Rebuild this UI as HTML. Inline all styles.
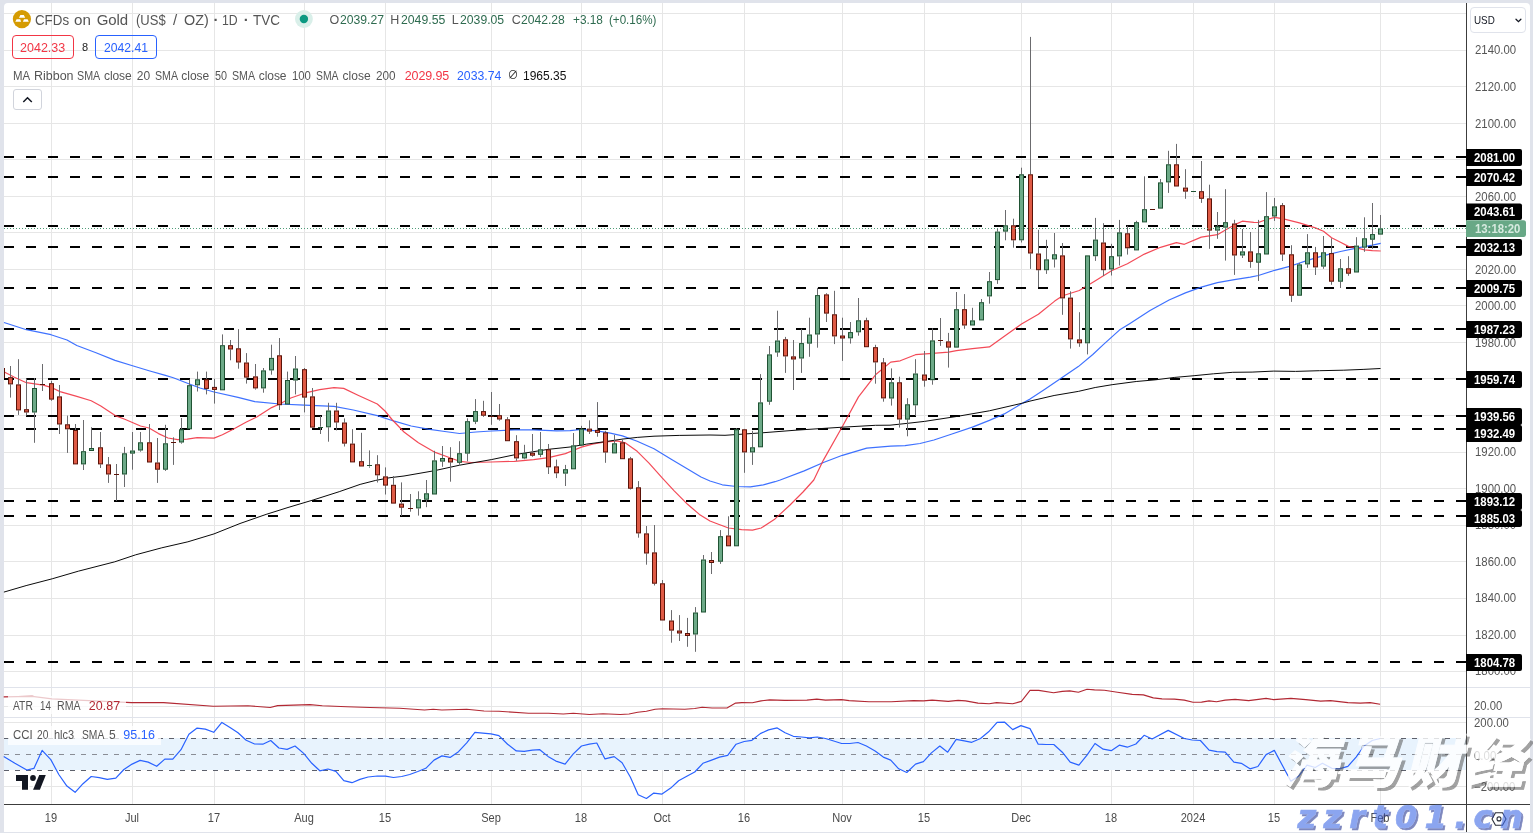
<!DOCTYPE html>
<html lang="en"><head><meta charset="utf-8"><title>CFDs on Gold (US$ / OZ) 1D TVC</title>
<style>
html,body{margin:0;padding:0}
body{width:1533px;height:833px;background:#e0e3eb;overflow:hidden;position:relative;font-family:"Liberation Sans", "Noto Sans CJK SC", sans-serif}
#panel{position:absolute;left:4px;top:3px;width:1526px;height:829px;background:#fff;border-radius:4px 4px 0 0}
svg{position:absolute;left:0;top:0}
.t{position:absolute;white-space:pre;line-height:1;transform-origin:0 50%}
.box{position:absolute;box-sizing:border-box;border:1px solid;border-radius:4px}
.lg{position:absolute;background:rgba(255,255,255,.75)}
#wm1{position:absolute;left:1281px;top:735px;font-size:56px;line-height:1;font-weight:900;font-style:italic;white-space:pre;font-family:"Liberation Sans","Noto Sans CJK SC","WenQuanYi Zen Hei",sans-serif;color:#fff;-webkit-text-stroke:1px #fff;filter:url(#wmf);letter-spacing:6px}
#wm2{position:absolute;left:1297.5px;top:801.4px;font-size:32px;line-height:1;font-weight:700;font-style:italic;white-space:pre;font-family:"DejaVu Sans","Liberation Sans",sans-serif;color:rgb(68,110,230);-webkit-text-stroke:.7px rgb(68,110,230);filter:url(#wmb);letter-spacing:7.3px}
</style></head><body>
<div id="panel"></div>
<svg width="1533" height="833" viewBox="0 0 1533 833" shape-rendering="auto">
<defs><filter id="wmf" x="-5%" y="-10%" width="115%" height="130%" color-interpolation-filters="sRGB"><feOffset in="SourceAlpha" dx="2.8" dy="2.8" result="o"/><feComposite in="o" in2="SourceAlpha" operator="out" result="sh"/><feGaussianBlur in="sh" stdDeviation="0.6" result="sh"/><feFlood flood-color="#555" flood-opacity="0.55"/><feComposite in2="sh" operator="in" result="shc"/><feComponentTransfer in="SourceGraphic" result="fg"><feFuncA type="linear" slope="0.8"/></feComponentTransfer><feMerge><feMergeNode in="shc"/><feMergeNode in="fg"/></feMerge></filter><filter id="wmb" x="-5%" y="-10%" width="115%" height="130%" color-interpolation-filters="sRGB"><feOffset in="SourceAlpha" dx="2" dy="2" result="o"/><feComposite in="o" in2="SourceAlpha" operator="out" result="sh"/><feGaussianBlur in="sh" stdDeviation="0.3" result="sh"/><feFlood flood-color="rgb(38,55,147)" flood-opacity="0.6"/><feComposite in2="sh" operator="in" result="shc"/><feComponentTransfer in="SourceGraphic" result="fg"><feFuncA type="linear" slope="0.62"/></feComponentTransfer><feMerge><feMergeNode in="shc"/><feMergeNode in="fg"/></feMerge></filter></defs>
<g id="chart">
<line x1="4" y1="671.5" x2="1466.5" y2="671.5" stroke="#e6e6e6"/>
<line x1="4" y1="635.5" x2="1466.5" y2="635.5" stroke="#e6e6e6"/>
<line x1="4" y1="598.5" x2="1466.5" y2="598.5" stroke="#e6e6e6"/>
<line x1="4" y1="561.5" x2="1466.5" y2="561.5" stroke="#e6e6e6"/>
<line x1="4" y1="525.5" x2="1466.5" y2="525.5" stroke="#e6e6e6"/>
<line x1="4" y1="488.5" x2="1466.5" y2="488.5" stroke="#e6e6e6"/>
<line x1="4" y1="452.5" x2="1466.5" y2="452.5" stroke="#e6e6e6"/>
<line x1="4" y1="415.5" x2="1466.5" y2="415.5" stroke="#e6e6e6"/>
<line x1="4" y1="378.5" x2="1466.5" y2="378.5" stroke="#e6e6e6"/>
<line x1="4" y1="342.5" x2="1466.5" y2="342.5" stroke="#e6e6e6"/>
<line x1="4" y1="305.5" x2="1466.5" y2="305.5" stroke="#e6e6e6"/>
<line x1="4" y1="269.5" x2="1466.5" y2="269.5" stroke="#e6e6e6"/>
<line x1="4" y1="232.5" x2="1466.5" y2="232.5" stroke="#e6e6e6"/>
<line x1="4" y1="196.5" x2="1466.5" y2="196.5" stroke="#e6e6e6"/>
<line x1="4" y1="159.5" x2="1466.5" y2="159.5" stroke="#e6e6e6"/>
<line x1="4" y1="123.5" x2="1466.5" y2="123.5" stroke="#e6e6e6"/>
<line x1="4" y1="86.5" x2="1466.5" y2="86.5" stroke="#e6e6e6"/>
<line x1="4" y1="50.5" x2="1466.5" y2="50.5" stroke="#e6e6e6"/>
<line x1="4" y1="13.5" x2="1466.5" y2="13.5" stroke="#e6e6e6"/>
<line x1="4" y1="706.5" x2="1466.5" y2="706.5" stroke="#e6e6e6"/>
<line x1="4" y1="722.5" x2="1466.5" y2="722.5" stroke="#e6e6e6"/>
<line x1="4" y1="754.5" x2="1466.5" y2="754.5" stroke="#e6e6e6"/>
<line x1="4" y1="786.5" x2="1466.5" y2="786.5" stroke="#e6e6e6"/>
<line x1="51.5" y1="3" x2="51.5" y2="804.5" stroke="#e6e6e6"/>
<line x1="132.5" y1="3" x2="132.5" y2="804.5" stroke="#e6e6e6"/>
<line x1="214.5" y1="3" x2="214.5" y2="804.5" stroke="#e6e6e6"/>
<line x1="304.5" y1="3" x2="304.5" y2="804.5" stroke="#e6e6e6"/>
<line x1="385.5" y1="3" x2="385.5" y2="804.5" stroke="#e6e6e6"/>
<line x1="491.5" y1="3" x2="491.5" y2="804.5" stroke="#e6e6e6"/>
<line x1="581.5" y1="3" x2="581.5" y2="804.5" stroke="#e6e6e6"/>
<line x1="662.5" y1="3" x2="662.5" y2="804.5" stroke="#e6e6e6"/>
<line x1="744.5" y1="3" x2="744.5" y2="804.5" stroke="#e6e6e6"/>
<line x1="842.5" y1="3" x2="842.5" y2="804.5" stroke="#e6e6e6"/>
<line x1="924.5" y1="3" x2="924.5" y2="804.5" stroke="#e6e6e6"/>
<line x1="1021.5" y1="3" x2="1021.5" y2="804.5" stroke="#e6e6e6"/>
<line x1="1111.5" y1="3" x2="1111.5" y2="804.5" stroke="#e6e6e6"/>
<line x1="1193.5" y1="3" x2="1193.5" y2="804.5" stroke="#e6e6e6"/>
<line x1="1274.5" y1="3" x2="1274.5" y2="804.5" stroke="#e6e6e6"/>
<line x1="1380.5" y1="3" x2="1380.5" y2="804.5" stroke="#e6e6e6"/>
<rect x="4" y="738" width="1462.5" height="32" fill="#e8f3fd"/>
<line x1="4" y1="738.5" x2="1466.5" y2="738.5" stroke="#5d606b" stroke-width="1" stroke-dasharray="5 6"/>
<line x1="4" y1="754.5" x2="1466.5" y2="754.5" stroke="#8a8d95" stroke-width="1" stroke-dasharray="5 6"/>
<line x1="4" y1="770.5" x2="1466.5" y2="770.5" stroke="#5d606b" stroke-width="1" stroke-dasharray="5 6"/>
<line x1="4" y1="687.5" x2="1530" y2="687.5" stroke="#e0e3eb"/>
<line x1="4" y1="717.5" x2="1530" y2="717.5" stroke="#e0e3eb"/>
<line x1="4" y1="157.0" x2="1466.5" y2="157.0" stroke="#000" stroke-width="2" stroke-dasharray="10 12"/>
<line x1="4" y1="177.0" x2="1466.5" y2="177.0" stroke="#000" stroke-width="2" stroke-dasharray="10 12"/>
<line x1="4" y1="226.0" x2="1466.5" y2="226.0" stroke="#000" stroke-width="2" stroke-dasharray="10 12"/>
<line x1="4" y1="247.0" x2="1466.5" y2="247.0" stroke="#000" stroke-width="2" stroke-dasharray="10 12"/>
<line x1="4" y1="288.0" x2="1466.5" y2="288.0" stroke="#000" stroke-width="2" stroke-dasharray="10 12"/>
<line x1="4" y1="329.0" x2="1466.5" y2="329.0" stroke="#000" stroke-width="2" stroke-dasharray="10 12"/>
<line x1="4" y1="379.0" x2="1466.5" y2="379.0" stroke="#000" stroke-width="2" stroke-dasharray="10 12"/>
<line x1="4" y1="416.0" x2="1466.5" y2="416.0" stroke="#000" stroke-width="2" stroke-dasharray="10 12"/>
<line x1="4" y1="429.0" x2="1466.5" y2="429.0" stroke="#000" stroke-width="2" stroke-dasharray="10 12"/>
<line x1="4" y1="501.0" x2="1466.5" y2="501.0" stroke="#000" stroke-width="2" stroke-dasharray="10 12"/>
<line x1="4" y1="516.0" x2="1466.5" y2="516.0" stroke="#000" stroke-width="2" stroke-dasharray="10 12"/>
<line x1="4" y1="662.0" x2="1466.5" y2="662.0" stroke="#000" stroke-width="2" stroke-dasharray="10 12"/>
<polyline points="4.0,322.5 26.4,329.7 51.0,334.7 67.0,340.0 76.8,345.5 96.0,352.7 115.0,360.4 132.5,365.7 149.0,370.7 165.4,375.3 173.3,377.7 189.4,384.0 200.0,388.0 214.0,392.0 238.0,397.3 254.8,401.6 279.6,404.0 304.5,405.2 334.0,406.4 353.3,410.0 377.3,415.6 394.4,421.2 411.2,426.0 428.0,429.1 444.8,431.5 459.5,433.5 476.0,432.0 491.4,431.0 514.5,429.9 533.7,429.9 556.5,430.8 570.0,430.7 581.4,429.5 596.9,430.8 610.3,433.2 622.4,435.9 637.2,441.3 654.0,448.8 670.8,458.9 687.6,469.0 701.0,477.0 710.0,481.0 722.3,484.8 736.5,486.5 750.4,486.9 763.3,484.8 775.0,481.7 780.2,480.0 804.2,470.9 823.4,462.5 842.4,455.3 866.7,448.1 890.7,446.1 905.0,445.7 920.0,443.5 933.9,440.0 951.2,434.3 972.4,427.1 989.4,420.4 1004.3,413.9 1022.7,403.1 1030.0,399.1 1044.5,389.5 1061.4,377.9 1078.3,366.6 1092.8,354.5 1103.3,344.6 1119.4,330.1 1130.0,323.5 1150.0,310.5 1169.1,300.0 1185.4,292.9 1201.3,287.1 1217.4,282.7 1234.4,279.6 1250.3,277.2 1258.4,275.5 1274.6,270.3 1291.5,265.8 1307.5,260.4 1323.5,255.7 1340.5,251.5 1356.4,248.1 1372.4,245.2 1380.7,243.4" fill="none" stroke="#2962ff" stroke-width="1.2" stroke-linejoin="round" opacity=".9"/>
<polyline points="4.3,372.0 14.4,377.2 26.4,382.7 43.2,385.2 51.0,387.3 60.0,391.6 76.8,396.4 91.2,400.8 100.8,406.0 115.2,415.6 124.8,419.2 140.5,426.0 149.0,428.0 158.5,433.6 168.0,438.0 177.7,439.7 187.3,439.2 197.2,437.6 214.0,438.1 222.4,434.8 233.2,429.2 246.4,422.0 257.2,416.8 271.6,407.6 279.6,404.0 290.8,398.0 304.5,393.2 319.7,389.6 334.0,387.7 343.7,388.4 358.0,395.2 377.3,404.0 385.0,411.0 392.0,419.5 404.0,432.0 418.4,442.8 435.2,452.4 450.6,458.0 459.5,461.3 471.2,462.5 491.4,462.0 514.5,461.3 533.7,459.6 548.5,457.7 565.4,453.6 573.0,450.5 581.4,447.1 593.5,443.8 605.5,441.8 617.0,440.9 625.5,442.9 637.2,451.3 649.0,463.1 662.4,478.2 674.2,490.8 687.6,504.3 699.4,514.4 710.0,521.0 715.8,523.2 728.5,528.0 741.7,529.7 752.5,530.1 761.2,528.0 775.0,518.9 790.0,505.0 803.0,492.0 813.8,480.0 823.4,460.1 842.4,426.5 858.5,396.9 875.5,374.8 890.7,362.1 900.2,360.8 915.5,354.7 932.4,353.3 948.6,352.2 956.5,350.6 972.4,348.6 989.4,346.9 1005.4,335.4 1021.5,324.0 1038.4,314.3 1054.7,301.1 1062.7,295.8 1079.3,290.5 1095.4,280.7 1111.5,270.7 1127.4,263.7 1144.4,254.1 1160.5,247.3 1176.4,242.7 1184.4,244.3 1201.3,237.1 1217.4,234.7 1225.4,230.0 1234.4,224.9 1242.3,221.2 1253.8,222.4 1258.4,222.5 1266.5,219.5 1274.6,217.3 1282.5,218.7 1299.4,222.9 1315.4,227.9 1323.5,231.3 1331.6,237.7 1340.5,242.2 1348.4,246.4 1356.4,247.8 1364.5,249.8 1372.4,250.6 1380.7,251.0" fill="none" stroke="#f23645" stroke-width="1.2" stroke-linejoin="round" opacity=".9"/>
<polyline points="3.9,592.1 26.1,585.6 52.2,578.8 78.3,571.2 114.8,561.8 135.7,554.8 161.8,547.8 187.9,541.8 214.0,533.9 240.0,523.5 266.1,514.4 287.0,507.8 313.1,500.0 339.2,491.7 360.1,484.4 375.7,480.4 390.0,477.7 404.0,476.0 434.5,470.7 459.5,465.2 491.4,459.6 516.4,454.4 548.5,449.3 570.0,447.0 586.8,444.1 605.5,441.6 622.4,439.1 637.2,437.4 654.0,436.2 679.2,435.4 710.0,435.0 725.0,435.3 761.0,432.9 797.0,430.1 842.4,427.2 875.5,425.3 890.0,425.2 905.0,423.6 924.5,421.4 956.5,416.5 989.4,410.8 1022.7,403.1 1030.0,401.1 1054.1,395.5 1078.3,391.4 1095.2,387.5 1112.1,384.7 1136.2,381.5 1155.5,379.8 1174.8,377.4 1194.1,375.7 1213.4,373.8 1232.8,372.3 1252.1,372.1 1273.8,371.1 1295.5,371.4 1319.6,370.7 1343.8,370.2 1363.1,369.4 1380.5,368.5" fill="none" stroke="#0a0a0a" stroke-width="1" stroke-linejoin="round"/>
<path d="M10.5 366.0V377.2M10.5 384.4V397.6M18.5 359.2V384.4M18.5 410.4V414.9M26.5 378.4V409.2M26.5 412.5V415.6M34.5 378.0V388.0M34.5 412.5V442.8M42.5 364.0V384.4M42.5 385.2V391.0M51.5 380.8V383.2M51.5 399.6V400.8M59.5 385.0V396.4M59.5 424.5V434.0M67.5 415.6V424.3M67.5 429.3V452.9M75.5 424.0V430.0M83.5 420.0V451.2M83.5 464.4V470.0M91.5 427.2V448.3M100.5 432.0V447.3M100.5 464.4V468.0M108.5 457.0V464.4M108.5 474.5V482.9M116.5 464.0V474.2M116.5 475.0V500.9M124.5 446.9V453.3M124.5 474.5V487.0M132.5 432.0V450.5M132.5 453.6V469.7M140.5 432.0V442.3M140.5 450.5V451.7M149.5 424.0V442.3M157.5 438.0V462.5M157.5 469.7V482.9M165.5 424.8V443.3M165.5 469.7V470.9M173.5 437.3V441.9M173.5 442.7V464.9M181.5 418.0V429.3M181.5 442.5V443.7M189.5 379.6V385.2M197.5 371.6V379.3M197.5 385.3V391.5M206.5 371.6V379.3M206.5 388.9V394.4M214.5 378.8V387.2M214.5 389.6V403.6M222.5 334.4V345.2M230.5 340.0V345.2M230.5 349.5V360.3M238.5 329.1V348.3M238.5 362.5V368.7M246.5 353.1V362.5M246.5 377.6V383.6M255.5 364.0V376.4M255.5 388.4V389.6M263.5 368.0V370.4M263.5 388.4V392.7M271.5 344.7V357.9M271.5 370.4V374.7M279.5 338.0V355.3M279.5 405.2V410.0M287.5 371.6V380.0M295.5 356.0V368.5M295.5 380.5V394.4M304.5 368.0V369.2M304.5 397.6V412.4M312.5 388.0V396.4M320.5 416.0V426.7M320.5 427.7V434.0M328.5 402.8V410.5M328.5 427.3V441.7M336.5 402.8V410.5M336.5 422.5V430.4M344.5 418.4V422.5M344.5 443.6V446.5M352.5 429.2V443.6M361.5 432.8V461.2M369.5 450.4V465.3M369.5 466.3V467.7M377.5 455.2V464.3M377.5 475.3V482.5M385.5 467.4V476.4M385.5 485.6V494.5M393.5 476.0V484.8M401.5 482.4V503.6M401.5 507.7V516.0M410.5 494.0V508.0M410.5 509.0V511.7M418.5 491.3V499.3M418.5 508.4V515.6M426.5 480.0V493.3M426.5 499.7V507.2M434.5 450.8V460.4M442.5 446.0V458.0M442.5 461.6V466.8M450.5 447.2V458.0M450.5 462.5V481.7M459.5 441.2V453.2M459.5 462.8V464.9M467.5 418.3V421.2M467.5 453.6V461.3M475.5 399.1V411.1M475.5 421.7V424.1M483.5 400.8V411.1M483.5 415.7V416.9M491.5 392.0V415.7M491.5 416.7V424.8M499.5 404.0V415.2M499.5 419.5V420.7M507.5 417.1V419.3M516.5 435.2V441.2M516.5 458.4V460.8M524.5 444.8V453.2M524.5 458.4V459.2M532.5 434.0V452.9M532.5 455.6V456.8M540.5 432.0V449.3M540.5 454.8V457.2M548.5 444.0V449.3M548.5 467.3V474.0M556.5 459.6V466.4M556.5 473.3V478.1M565.5 464.9V469.2M565.5 473.6V486.0M573.5 433.0V445.4M581.5 425.8V428.7M589.5 420.3V428.7M589.5 431.5V434.0M597.5 402.1V430.3M597.5 432.4V436.7M605.5 430.8V432.4M605.5 452.5V462.8M614.5 435.0V443.3M622.5 438.7V442.4M630.5 456.9V458.4M630.5 488.7V489.5M638.5 481.1V487.3M638.5 533.4V537.7M646.5 526.0V533.4M646.5 553.5V564.7M654.5 525.0V552.4M654.5 583.7V585.5M662.5 580.0V583.3M671.5 610.1V620.5M671.5 630.6V642.7M679.5 615.1V630.6M679.5 633.4V641.0M687.5 617.9V633.4M687.5 635.6V646.8M695.5 607.1V612.5M695.5 634.5V651.8M703.5 555.0V559.5M711.5 552.0V560.4M711.5 562.6V574.0M720.5 530.1V536.2M720.5 561.7V563.9M728.5 516.3V535.5M736.5 428.1V429.3M744.5 428.9V429.3M744.5 452.4V472.8M752.5 430.8V447.3M752.5 452.4V464.9M760.5 374.1V402.4M769.5 346.0V354.4M769.5 401.7V404.8M777.5 310.7V340.5M777.5 352.5V356.8M785.5 336.9V339.3M785.5 356.4V372.9M793.5 340.0V356.4M793.5 359.5V390.0M801.5 328.7V343.1M801.5 358.5V372.9M809.5 317.7V334.5M809.5 343.6V356.8M817.5 287.9V295.1M817.5 334.5V347.7M826.5 293.2V294.4M826.5 313.6V322.0M834.5 290.8V314.3M834.5 336.4V344.1M842.5 317.7V335.7M842.5 338.3V360.9M850.5 322.0V332.1M850.5 338.3V343.6M858.5 298.0V320.3M858.5 332.3V335.7M866.5 317.7V320.3M875.5 344.8V347.2M875.5 362.4V383.7M883.5 358.0V362.4M883.5 398.4V401.7M891.5 368.4V382.3M891.5 398.5V405.6M899.5 376.7V382.3M899.5 419.5V427.6M907.5 398.2V404.3M907.5 419.6V436.3M915.5 359.2V373.5M915.5 405.3V415.9M924.5 351.0V374.5M924.5 380.6V386.7M932.5 328.2V340.4M932.5 380.2V384.7M940.5 318.0V339.9M940.5 340.9V345.9M948.5 332.9V341.4M948.5 347.6V367.6M956.5 292.0V309.2M964.5 294.1V309.2M964.5 325.5V328.8M972.5 307.8V320.4M981.5 299.0V302.2M989.5 272.0V281.2M989.5 296.4V303.7M997.5 228.5V231.6M997.5 280.1V283.9M1005.5 210.0V225.3M1005.5 231.6V240.3M1013.5 218.7V225.3M1013.5 240.3V247.7M1021.5 167.7V174.3M1021.5 240.3V242.5M1030.5 36.9V174.3M1030.5 253.5V268.9M1038.5 229.8V253.5M1038.5 270.2V287.1M1046.5 239.8V259.4M1046.5 270.2V273.9M1054.5 233.0V254.3M1054.5 259.4V267.5M1062.5 243.0V255.4M1062.5 298.4V314.8M1070.5 291.3V297.6M1070.5 339.4V348.6M1079.5 312.2V339.4M1079.5 343.3V346.8M1087.5 343.3V354.4M1095.5 217.9V239.6M1095.5 256.2V260.9M1103.5 223.2V242.5M1103.5 270.2V276.0M1111.5 243.8V256.2M1111.5 269.4V275.5M1119.5 219.9V232.4M1119.5 256.4V265.5M1127.5 225.8V233.3M1127.5 248.3V254.6M1136.5 220.8V222.2M1144.5 176.3V209.2M1160.5 179.0V182.4M1168.5 150.8V164.3M1168.5 182.4V192.9M1176.5 143.9V164.3M1185.5 169.2V187.6M1185.5 191.6V198.8M1201.5 161.0V191.2M1201.5 198.8V202.9M1209.5 184.7V198.4M1209.5 230.6V248.8M1217.5 212.0V226.3M1217.5 230.6V238.8M1225.5 189.2V222.2M1225.5 227.6V260.6M1234.5 219.8V223.5M1234.5 255.5V274.9M1242.5 229.0V251.4M1242.5 255.5V258.0M1250.5 232.0V251.4M1250.5 261.8V267.8M1258.5 219.9V253.3M1258.5 262.7V281.0M1266.5 192.1V216.2M1274.5 198.0V206.4M1274.5 216.5V220.9M1282.5 203.0V205.2M1282.5 254.5V261.0M1291.5 245.2V254.3M1291.5 295.7V301.9M1299.5 262.9V264.4M1307.5 234.1V252.3M1307.5 264.4V267.8M1315.5 246.9V252.3M1315.5 267.4V275.0M1323.5 236.0V252.3M1323.5 266.6V268.8M1331.5 238.3V253.1M1331.5 281.7V284.8M1340.5 259.0V268.3M1340.5 281.7V288.0M1348.5 256.2V268.3M1348.5 273.7V275.8M1356.5 237.2V245.6M1364.5 217.3V238.3M1364.5 247.6V251.8M1372.5 203.0V234.1M1372.5 239.7V248.9M1380.5 215.0V228.4" stroke="#6b6b6e" stroke-width="1" fill="none"/>
<rect x="4" y="368.0" width="1" height="10.0" fill="#5a1208"/>
<rect x="8.5" y="377.7" width="4" height="6.2" fill="#df5a45" stroke="#5a1208"/>
<rect x="16.5" y="384.9" width="4" height="25.0" fill="#df5a45" stroke="#5a1208"/>
<rect x="24.5" y="409.7" width="4" height="2.3" fill="#df5a45" stroke="#5a1208"/>
<rect x="32.5" y="388.5" width="4" height="23.5" fill="#6daa88" stroke="#1f5233"/>
<rect x="40" y="384" width="5" height="1" fill="#5a1208"/>
<rect x="49.5" y="383.7" width="4" height="15.4" fill="#df5a45" stroke="#5a1208"/>
<rect x="57.5" y="396.9" width="4" height="27.1" fill="#df5a45" stroke="#5a1208"/>
<rect x="65.5" y="424.8" width="4" height="4.0" fill="#df5a45" stroke="#5a1208"/>
<rect x="73.5" y="430.5" width="4" height="33.4" fill="#df5a45" stroke="#5a1208"/>
<rect x="81.5" y="451.7" width="4" height="12.2" fill="#6daa88" stroke="#1f5233"/>
<rect x="89.5" y="448.5" width="4" height="2.0" fill="#6daa88" stroke="#1f5233"/>
<rect x="98.5" y="447.8" width="4" height="16.1" fill="#df5a45" stroke="#5a1208"/>
<rect x="106.5" y="464.9" width="4" height="9.1" fill="#df5a45" stroke="#5a1208"/>
<rect x="114" y="474" width="5" height="1" fill="#5a1208"/>
<rect x="122.5" y="453.8" width="4" height="20.2" fill="#6daa88" stroke="#1f5233"/>
<rect x="130.5" y="451.0" width="4" height="2.1" fill="#6daa88" stroke="#1f5233"/>
<rect x="138.5" y="442.8" width="4" height="7.2" fill="#6daa88" stroke="#1f5233"/>
<rect x="147.5" y="442.8" width="4" height="19.2" fill="#df5a45" stroke="#5a1208"/>
<rect x="155.5" y="463.0" width="4" height="6.2" fill="#df5a45" stroke="#5a1208"/>
<rect x="163.5" y="443.8" width="4" height="25.4" fill="#6daa88" stroke="#1f5233"/>
<rect x="171" y="442" width="5" height="1" fill="#5a1208"/>
<rect x="179.5" y="429.8" width="4" height="12.2" fill="#6daa88" stroke="#1f5233"/>
<rect x="187.5" y="385.7" width="4" height="43.1" fill="#6daa88" stroke="#1f5233"/>
<rect x="195.5" y="379.8" width="4" height="5.0" fill="#6daa88" stroke="#1f5233"/>
<rect x="204.5" y="379.8" width="4" height="8.6" fill="#df5a45" stroke="#5a1208"/>
<rect x="212.5" y="387.4" width="4" height="2.0" fill="#df5a45" stroke="#5a1208"/>
<rect x="220.5" y="345.7" width="4" height="44.1" fill="#6daa88" stroke="#1f5233"/>
<rect x="228.5" y="345.7" width="4" height="3.3" fill="#df5a45" stroke="#5a1208"/>
<rect x="236.5" y="348.8" width="4" height="13.2" fill="#df5a45" stroke="#5a1208"/>
<rect x="244.5" y="363.0" width="4" height="14.1" fill="#df5a45" stroke="#5a1208"/>
<rect x="253.5" y="376.9" width="4" height="11.0" fill="#df5a45" stroke="#5a1208"/>
<rect x="261.5" y="370.9" width="4" height="17.0" fill="#6daa88" stroke="#1f5233"/>
<rect x="269.5" y="358.4" width="4" height="11.5" fill="#6daa88" stroke="#1f5233"/>
<rect x="277.5" y="355.8" width="4" height="48.9" fill="#df5a45" stroke="#5a1208"/>
<rect x="285.5" y="380.5" width="4" height="23.5" fill="#6daa88" stroke="#1f5233"/>
<rect x="293.5" y="369.0" width="4" height="11.0" fill="#6daa88" stroke="#1f5233"/>
<rect x="302.5" y="369.7" width="4" height="27.4" fill="#df5a45" stroke="#5a1208"/>
<rect x="310.5" y="396.9" width="4" height="30.2" fill="#df5a45" stroke="#5a1208"/>
<rect x="318" y="427" width="5" height="1" fill="#1f5233"/>
<rect x="326.5" y="411.0" width="4" height="15.8" fill="#6daa88" stroke="#1f5233"/>
<rect x="334.5" y="411.0" width="4" height="11.0" fill="#df5a45" stroke="#5a1208"/>
<rect x="342.5" y="423.0" width="4" height="20.1" fill="#df5a45" stroke="#5a1208"/>
<rect x="350.5" y="444.1" width="4" height="17.8" fill="#df5a45" stroke="#5a1208"/>
<rect x="359.5" y="461.7" width="4" height="4.3" fill="#df5a45" stroke="#5a1208"/>
<rect x="367" y="465" width="5" height="1" fill="#1f5233"/>
<rect x="375.5" y="464.8" width="4" height="10.0" fill="#df5a45" stroke="#5a1208"/>
<rect x="383.5" y="476.9" width="4" height="8.2" fill="#df5a45" stroke="#5a1208"/>
<rect x="391.5" y="485.3" width="4" height="17.8" fill="#df5a45" stroke="#5a1208"/>
<rect x="399.5" y="504.1" width="4" height="3.1" fill="#df5a45" stroke="#5a1208"/>
<rect x="408" y="508" width="5" height="1" fill="#5a1208"/>
<rect x="416.5" y="499.8" width="4" height="8.1" fill="#6daa88" stroke="#1f5233"/>
<rect x="424.5" y="493.8" width="4" height="5.4" fill="#6daa88" stroke="#1f5233"/>
<rect x="432.5" y="460.9" width="4" height="33.1" fill="#6daa88" stroke="#1f5233"/>
<rect x="440.5" y="458.5" width="4" height="2.6" fill="#6daa88" stroke="#1f5233"/>
<rect x="448.5" y="458.5" width="4" height="3.5" fill="#df5a45" stroke="#5a1208"/>
<rect x="457.5" y="453.7" width="4" height="8.6" fill="#6daa88" stroke="#1f5233"/>
<rect x="465.5" y="421.7" width="4" height="31.4" fill="#6daa88" stroke="#1f5233"/>
<rect x="473.5" y="411.6" width="4" height="9.6" fill="#6daa88" stroke="#1f5233"/>
<rect x="481.5" y="411.6" width="4" height="3.6" fill="#df5a45" stroke="#5a1208"/>
<rect x="489" y="416" width="5" height="1" fill="#5a1208"/>
<rect x="497.5" y="415.7" width="4" height="3.3" fill="#df5a45" stroke="#5a1208"/>
<rect x="505.5" y="419.8" width="4" height="20.9" fill="#df5a45" stroke="#5a1208"/>
<rect x="514.5" y="441.7" width="4" height="16.2" fill="#df5a45" stroke="#5a1208"/>
<rect x="522.5" y="453.7" width="4" height="4.2" fill="#6daa88" stroke="#1f5233"/>
<rect x="530.5" y="453.2" width="4" height="2.0" fill="#df5a45" stroke="#5a1208"/>
<rect x="538.5" y="449.8" width="4" height="4.5" fill="#6daa88" stroke="#1f5233"/>
<rect x="546.5" y="449.8" width="4" height="17.0" fill="#df5a45" stroke="#5a1208"/>
<rect x="554.5" y="466.9" width="4" height="5.9" fill="#df5a45" stroke="#5a1208"/>
<rect x="563.5" y="469.7" width="4" height="3.4" fill="#6daa88" stroke="#1f5233"/>
<rect x="571.5" y="445.9" width="4" height="22.9" fill="#6daa88" stroke="#1f5233"/>
<rect x="579.5" y="429.2" width="4" height="15.8" fill="#6daa88" stroke="#1f5233"/>
<rect x="587.5" y="429.1" width="4" height="2.0" fill="#df5a45" stroke="#5a1208"/>
<rect x="595.5" y="430.4" width="4" height="2.0" fill="#df5a45" stroke="#5a1208"/>
<rect x="603.5" y="432.9" width="4" height="19.1" fill="#df5a45" stroke="#5a1208"/>
<rect x="612.5" y="443.8" width="4" height="9.1" fill="#6daa88" stroke="#1f5233"/>
<rect x="620.5" y="442.9" width="4" height="15.8" fill="#df5a45" stroke="#5a1208"/>
<rect x="628.5" y="458.9" width="4" height="29.3" fill="#df5a45" stroke="#5a1208"/>
<rect x="636.5" y="487.8" width="4" height="45.1" fill="#df5a45" stroke="#5a1208"/>
<rect x="644.5" y="533.9" width="4" height="19.1" fill="#df5a45" stroke="#5a1208"/>
<rect x="652.5" y="552.9" width="4" height="30.3" fill="#df5a45" stroke="#5a1208"/>
<rect x="660.5" y="583.8" width="4" height="36.2" fill="#df5a45" stroke="#5a1208"/>
<rect x="669.5" y="621.0" width="4" height="9.1" fill="#df5a45" stroke="#5a1208"/>
<rect x="677.5" y="631.0" width="4" height="2.0" fill="#df5a45" stroke="#5a1208"/>
<rect x="685.5" y="633.5" width="4" height="2.0" fill="#df5a45" stroke="#5a1208"/>
<rect x="693.5" y="613.0" width="4" height="21.0" fill="#6daa88" stroke="#1f5233"/>
<rect x="701.5" y="560.0" width="4" height="52.0" fill="#6daa88" stroke="#1f5233"/>
<rect x="709.5" y="560.5" width="4" height="2.0" fill="#df5a45" stroke="#5a1208"/>
<rect x="718.5" y="536.7" width="4" height="24.5" fill="#6daa88" stroke="#1f5233"/>
<rect x="726.5" y="536.0" width="4" height="9.8" fill="#df5a45" stroke="#5a1208"/>
<rect x="734.5" y="429.8" width="4" height="116.0" fill="#6daa88" stroke="#1f5233"/>
<rect x="742.5" y="429.8" width="4" height="22.1" fill="#df5a45" stroke="#5a1208"/>
<rect x="750.5" y="447.8" width="4" height="4.1" fill="#6daa88" stroke="#1f5233"/>
<rect x="758.5" y="402.9" width="4" height="43.9" fill="#6daa88" stroke="#1f5233"/>
<rect x="767.5" y="354.9" width="4" height="46.3" fill="#6daa88" stroke="#1f5233"/>
<rect x="775.5" y="341.0" width="4" height="11.0" fill="#6daa88" stroke="#1f5233"/>
<rect x="783.5" y="339.8" width="4" height="16.1" fill="#df5a45" stroke="#5a1208"/>
<rect x="791.5" y="356.9" width="4" height="2.1" fill="#df5a45" stroke="#5a1208"/>
<rect x="799.5" y="343.6" width="4" height="14.4" fill="#6daa88" stroke="#1f5233"/>
<rect x="807.5" y="335.0" width="4" height="8.1" fill="#6daa88" stroke="#1f5233"/>
<rect x="815.5" y="295.6" width="4" height="38.4" fill="#6daa88" stroke="#1f5233"/>
<rect x="824.5" y="294.9" width="4" height="18.2" fill="#df5a45" stroke="#5a1208"/>
<rect x="832.5" y="314.8" width="4" height="21.1" fill="#df5a45" stroke="#5a1208"/>
<rect x="840.5" y="336.0" width="4" height="2.0" fill="#df5a45" stroke="#5a1208"/>
<rect x="848.5" y="332.6" width="4" height="5.2" fill="#6daa88" stroke="#1f5233"/>
<rect x="856.5" y="320.8" width="4" height="11.0" fill="#6daa88" stroke="#1f5233"/>
<rect x="864.5" y="320.8" width="4" height="25.9" fill="#df5a45" stroke="#5a1208"/>
<rect x="873.5" y="347.7" width="4" height="14.2" fill="#df5a45" stroke="#5a1208"/>
<rect x="881.5" y="362.9" width="4" height="35.0" fill="#df5a45" stroke="#5a1208"/>
<rect x="889.5" y="382.8" width="4" height="15.2" fill="#6daa88" stroke="#1f5233"/>
<rect x="897.5" y="382.8" width="4" height="36.2" fill="#df5a45" stroke="#5a1208"/>
<rect x="905.5" y="404.8" width="4" height="14.3" fill="#6daa88" stroke="#1f5233"/>
<rect x="913.5" y="374.0" width="4" height="30.8" fill="#6daa88" stroke="#1f5233"/>
<rect x="922.5" y="375.0" width="4" height="5.1" fill="#df5a45" stroke="#5a1208"/>
<rect x="930.5" y="340.9" width="4" height="38.8" fill="#6daa88" stroke="#1f5233"/>
<rect x="938" y="340" width="5" height="1" fill="#5a1208"/>
<rect x="946.5" y="341.9" width="4" height="5.2" fill="#df5a45" stroke="#5a1208"/>
<rect x="954.5" y="309.7" width="4" height="37.4" fill="#6daa88" stroke="#1f5233"/>
<rect x="962.5" y="309.7" width="4" height="15.3" fill="#df5a45" stroke="#5a1208"/>
<rect x="970.5" y="320.9" width="4" height="4.1" fill="#6daa88" stroke="#1f5233"/>
<rect x="979.5" y="302.7" width="4" height="17.2" fill="#6daa88" stroke="#1f5233"/>
<rect x="987.5" y="281.7" width="4" height="14.2" fill="#6daa88" stroke="#1f5233"/>
<rect x="995.5" y="232.1" width="4" height="47.5" fill="#6daa88" stroke="#1f5233"/>
<rect x="1003.5" y="225.8" width="4" height="5.3" fill="#6daa88" stroke="#1f5233"/>
<rect x="1011.5" y="225.8" width="4" height="14.0" fill="#df5a45" stroke="#5a1208"/>
<rect x="1019.5" y="174.8" width="4" height="65.0" fill="#6daa88" stroke="#1f5233"/>
<rect x="1028.5" y="174.8" width="4" height="78.2" fill="#df5a45" stroke="#5a1208"/>
<rect x="1036.5" y="254.0" width="4" height="15.7" fill="#df5a45" stroke="#5a1208"/>
<rect x="1044.5" y="259.9" width="4" height="9.8" fill="#6daa88" stroke="#1f5233"/>
<rect x="1052.5" y="254.8" width="4" height="4.1" fill="#6daa88" stroke="#1f5233"/>
<rect x="1060.5" y="255.9" width="4" height="42.0" fill="#df5a45" stroke="#5a1208"/>
<rect x="1068.5" y="298.1" width="4" height="40.8" fill="#df5a45" stroke="#5a1208"/>
<rect x="1077.5" y="339.9" width="4" height="2.9" fill="#df5a45" stroke="#5a1208"/>
<rect x="1085.5" y="255.9" width="4" height="86.9" fill="#6daa88" stroke="#1f5233"/>
<rect x="1093.5" y="240.1" width="4" height="15.6" fill="#6daa88" stroke="#1f5233"/>
<rect x="1101.5" y="243.0" width="4" height="26.7" fill="#df5a45" stroke="#5a1208"/>
<rect x="1109.5" y="256.7" width="4" height="12.2" fill="#6daa88" stroke="#1f5233"/>
<rect x="1117.5" y="232.9" width="4" height="23.0" fill="#6daa88" stroke="#1f5233"/>
<rect x="1125.5" y="233.8" width="4" height="14.0" fill="#df5a45" stroke="#5a1208"/>
<rect x="1134.5" y="222.7" width="4" height="27.2" fill="#6daa88" stroke="#1f5233"/>
<rect x="1142.5" y="209.7" width="4" height="12.2" fill="#6daa88" stroke="#1f5233"/>
<rect x="1150" y="209" width="5" height="1" fill="#5a1208"/>
<rect x="1158.5" y="182.9" width="4" height="25.2" fill="#6daa88" stroke="#1f5233"/>
<rect x="1166.5" y="164.8" width="4" height="17.1" fill="#6daa88" stroke="#1f5233"/>
<rect x="1174.5" y="164.8" width="4" height="21.2" fill="#df5a45" stroke="#5a1208"/>
<rect x="1183.5" y="188.1" width="4" height="3.0" fill="#df5a45" stroke="#5a1208"/>
<rect x="1191" y="191" width="5" height="1" fill="#1f5233"/>
<rect x="1199.5" y="191.7" width="4" height="6.6" fill="#df5a45" stroke="#5a1208"/>
<rect x="1207.5" y="198.9" width="4" height="31.2" fill="#df5a45" stroke="#5a1208"/>
<rect x="1215.5" y="226.8" width="4" height="3.3" fill="#6daa88" stroke="#1f5233"/>
<rect x="1223.5" y="222.7" width="4" height="4.4" fill="#6daa88" stroke="#1f5233"/>
<rect x="1232.5" y="224.0" width="4" height="31.0" fill="#df5a45" stroke="#5a1208"/>
<rect x="1240.5" y="251.9" width="4" height="3.1" fill="#6daa88" stroke="#1f5233"/>
<rect x="1248.5" y="251.9" width="4" height="9.4" fill="#df5a45" stroke="#5a1208"/>
<rect x="1256.5" y="253.8" width="4" height="8.4" fill="#6daa88" stroke="#1f5233"/>
<rect x="1264.5" y="216.7" width="4" height="37.3" fill="#6daa88" stroke="#1f5233"/>
<rect x="1272.5" y="206.9" width="4" height="9.1" fill="#6daa88" stroke="#1f5233"/>
<rect x="1280.5" y="205.7" width="4" height="48.3" fill="#df5a45" stroke="#5a1208"/>
<rect x="1289.5" y="254.8" width="4" height="40.4" fill="#df5a45" stroke="#5a1208"/>
<rect x="1297.5" y="264.9" width="4" height="30.3" fill="#6daa88" stroke="#1f5233"/>
<rect x="1305.5" y="252.8" width="4" height="11.1" fill="#6daa88" stroke="#1f5233"/>
<rect x="1313.5" y="252.8" width="4" height="14.1" fill="#df5a45" stroke="#5a1208"/>
<rect x="1321.5" y="252.8" width="4" height="13.3" fill="#6daa88" stroke="#1f5233"/>
<rect x="1329.5" y="253.6" width="4" height="27.6" fill="#df5a45" stroke="#5a1208"/>
<rect x="1338.5" y="268.8" width="4" height="12.4" fill="#6daa88" stroke="#1f5233"/>
<rect x="1346.5" y="268.8" width="4" height="4.4" fill="#df5a45" stroke="#5a1208"/>
<rect x="1354.5" y="246.1" width="4" height="25.9" fill="#6daa88" stroke="#1f5233"/>
<rect x="1362.5" y="238.8" width="4" height="8.3" fill="#6daa88" stroke="#1f5233"/>
<rect x="1370.5" y="234.6" width="4" height="4.6" fill="#6daa88" stroke="#1f5233"/>
<rect x="1378.5" y="228.9" width="4" height="5.2" fill="#6daa88" stroke="#1f5233"/>
<line x1="4" y1="228.5" x2="1466.5" y2="228.5" stroke="#4f9c78" stroke-width="1" stroke-dasharray="1 2"/>
<polyline points="3.7,696.9 32.2,696.4 52.0,698.9 131.4,702.6 163.6,702.6 213.2,706.3 247.9,705.8 270.2,707.5 277.6,705.6 309.9,704.6 322.3,705.8 347.0,706.8 370.0,707.5 399.7,708.3 424.5,710.0 433.2,709.3 441.9,710.0 466.7,709.3 484.0,711.0 498.9,711.3 528.6,713.3 548.5,713.3 563.3,714.0 573.3,713.3 589.4,714.5 603.0,713.7 620.4,714.5 629.0,714.0 637.7,712.3 646.4,711.3 655.1,709.3 662.5,708.8 684.8,709.3 694.7,708.5 702.2,707.3 712.1,708.0 727.0,708.0 735.6,703.1 741.8,702.6 752.4,702.8 761.1,700.9 769.7,699.9 784.6,700.4 806.9,700.1 816.8,699.1 825.5,700.1 841.6,699.6 849.1,700.6 868.9,701.8 891.2,701.8 913.5,700.6 923.4,700.9 932.1,700.1 948.2,701.4 958.1,700.4 965.6,700.9 978.0,703.1 989.1,703.8 996.6,702.6 1012.7,703.8 1021.4,701.4 1030.0,690.4 1038.7,690.4 1053.6,692.7 1062.3,691.4 1069.7,690.9 1078.4,692.2 1087.0,689.2 1094.5,689.9 1104.4,690.2 1117.4,692.2 1132.2,694.4 1143.4,694.9 1153.3,697.9 1162.0,698.9 1174.4,699.1 1184.3,700.1 1193.0,702.3 1201.6,702.1 1209.1,700.9 1216.5,701.8 1225.2,700.1 1235.1,699.4 1248.7,700.6 1266.1,698.4 1273.5,699.6 1290.9,698.4 1305.8,699.6 1320.6,701.1 1330.5,700.6 1347.9,702.6 1360.3,703.1 1370.2,702.6 1380.1,704.3" fill="none" stroke="#b22833" stroke-width="1.1" stroke-linejoin="round"/>
<polyline points="3.7,756.6 14.9,763.3 26.8,770.0 34.0,768.3 42.1,750.4 50.8,759.6 58.8,774.5 66.9,786.1 75.1,792.3 83.0,783.7 91.2,776.5 99.2,777.7 107.3,779.4 115.8,778.2 123.9,769.5 132.1,764.1 140.1,760.4 148.2,762.1 156.7,766.3 164.8,759.1 172.8,759.1 181.0,749.7 188.9,734.3 197.1,728.1 205.3,729.1 213.7,732.3 221.9,722.4 230.0,727.4 238.0,732.8 246.2,740.3 254.6,744.0 262.8,744.2 270.7,740.5 278.9,748.0 287.1,749.4 295.0,746.0 303.7,753.4 311.8,763.3 319.8,770.8 328.0,769.0 335.9,771.3 343.8,780.7 352.0,782.7 359.9,779.4 368.1,777.0 377.4,776.0 385.4,776.2 393.5,777.5 401.7,776.5 409.7,774.5 417.8,771.5 425.8,768.3 434.0,760.1 441.9,755.9 450.1,757.4 458.5,751.7 466.7,742.8 474.9,732.3 482.8,733.1 491.0,733.8 498.9,735.6 507.6,744.2 516.3,750.9 524.2,751.4 532.4,750.2 539.8,749.7 548.0,756.4 555.9,761.1 565.1,764.1 573.3,753.9 581.5,746.0 589.4,744.2 596.8,743.0 605.0,758.9 614.2,756.6 622.1,762.8 630.3,777.0 638.2,794.8 646.4,798.5 653.8,793.1 662.0,794.1 670.7,788.1 678.6,780.7 686.8,776.2 694.7,772.0 702.9,763.3 710.9,760.4 719.5,757.1 727.7,755.4 736.1,744.2 744.2,741.5 751.9,740.3 760.3,733.6 768.5,729.9 777.2,727.9 785.1,732.8 793.3,736.3 801.5,737.0 809.4,737.8 817.3,737.0 825.5,738.5 833.7,741.0 841.6,743.5 849.8,743.5 858.0,742.5 866.4,746.0 875.1,750.9 883.3,757.1 890.7,760.1 898.7,768.8 906.8,772.5 915.5,764.1 923.4,761.6 931.4,752.9 939.8,746.0 947.7,752.2 956.2,739.3 964.3,740.8 971.8,742.3 980.5,738.5 988.6,731.8 997.1,722.4 1004.7,722.2 1012.7,729.6 1020.9,725.6 1030.0,728.6 1038.2,744.2 1046.1,744.5 1053.8,744.5 1062.3,752.2 1070.2,762.1 1078.9,765.1 1087.0,755.1 1095.0,743.5 1103.2,749.2 1111.2,750.7 1119.3,745.2 1127.3,747.2 1135.9,744.0 1144.1,735.3 1152.1,739.0 1168.2,730.4 1184.3,738.5 1192.2,740.0 1200.4,740.5 1209.1,750.2 1217.0,751.7 1225.2,752.2 1233.9,762.1 1241.3,763.3 1250.0,768.8 1257.9,766.5 1266.1,754.6 1274.3,750.4 1290.9,781.2 1299.1,775.7 1307.0,765.1 1315.2,767.5 1322.4,763.3 1331.8,768.3 1339.2,768.8 1347.9,766.3 1356.1,757.1 1364.0,746.0 1372.2,740.5 1380.1,738.5" fill="none" stroke="#2962ff" stroke-width="1.2" stroke-linejoin="round"/>
<line x1="1466.5" y1="3" x2="1466.5" y2="832" stroke="#3c3c3c"/>
<line x1="4" y1="804.5" x2="1530" y2="804.5" stroke="#3c3c3c"/>
<g fill="#131722" stroke="#fff" stroke-width="3" paint-order="stroke" stroke-linejoin="round"><path d="M16 775.1H28V789.8H22V780.9H16Z"/><circle cx="33" cy="778" r="2.9"/><path d="M39.2 775.1H45.8L39.9 789.8H33.1Z"/></g>
<circle cx="21.9" cy="19.1" r="9.1" fill="#d59b02"/>
<path d="M20.4 15.1H23.8L25.2 17.8H19ZM16.6 19.2H20.2L21.1 21.8H15.3ZM24 19.2H27.6L28.8 21.8H22.9Z" fill="#fff"/>
<circle cx="303.9" cy="19" r="8.9" fill="#d9efe9"/>
<circle cx="303.9" cy="19" r="4.2" fill="#0a9981"/>
<path d="M23.3 102L27.5 97.8L31.8 102" fill="none" stroke="#131722" stroke-width="1.5"/>
<path d="M1516 19.3L1518.45 21.7L1520.9 19.3" fill="none" stroke="#131722" stroke-width="1.3" stroke-linecap="round"/>
<path d="M1492 819l3.5-6.2h7l3.5 6.2l-3.5 6.2h-7z" fill="none" stroke="#2a2e39" stroke-width="1.1"/>
<circle cx="1499" cy="818.9" r="2" fill="none" stroke="#2a2e39" stroke-width="1.1"/>
</g></svg>
<div class="lg" style="left:8px;top:726px;width:153px;height:19px"></div>
<div class="lg" style="left:8px;top:696px;width:118px;height:18px"></div>
<div class="box" style="left:12.1px;top:34.9px;width:61.8px;height:24px;border-color:#f23645"></div>
<div class="box" style="left:95px;top:34.9px;width:61.9px;height:24px;border-color:#2962ff"></div>
<div class="box" style="left:13.1px;top:89.3px;width:28.6px;height:20.6px;border-color:#d1d4dc;border-radius:3px"></div>
<div class="box" style="left:1470.2px;top:7.2px;width:55.4px;height:25.7px;border-color:#e0e3eb"></div>
<span id="a0" class="t" style="top:12.27px;font-size:15px;color:#555;transform:scaleX(0.8882);left:35.20px;">CFDs</span>
<span id="a1" class="t" style="top:12.27px;font-size:15px;color:#555;transform:scaleX(1.0097);left:73.90px;">on</span>
<span id="a2" class="t" style="top:12.27px;font-size:15px;color:#555;letter-spacing:-0.114px;left:96.80px;">Gold</span>
<span id="a3" class="t" style="top:12.27px;font-size:15px;color:#555;transform:scaleX(0.8670);left:136.00px;">(US$</span>
<span id="a4" class="t" style="top:12.27px;font-size:15px;color:#555;left:173.10px;">/</span>
<span id="a5" class="t" style="top:12.27px;font-size:15px;color:#555;transform:scaleX(0.9562);left:184.40px;">OZ)</span>
<span id="a6" class="t" style="top:12.27px;font-size:15px;color:#555;font-weight:700;left:213.60px;">·</span>
<span id="a7" class="t" style="top:12.27px;font-size:15px;color:#555;transform:scaleX(0.8178);left:222.48px;">1D</span>
<span id="a8" class="t" style="top:12.27px;font-size:15px;color:#555;font-weight:700;left:243.70px;">·</span>
<span id="a9" class="t" style="top:12.27px;font-size:15px;color:#555;transform:scaleX(0.8983);left:252.90px;">TVC</span>
<span id="a10" class="t" style="top:14.49px;font-size:12.5px;color:#555;left:329.60px;">O</span>
<span id="a11" class="t" style="top:14.49px;font-size:12.5px;color:#2e6b4f;transform:scaleX(0.9750);left:340.30px;">2039.27</span>
<span id="a12" class="t" style="top:14.49px;font-size:12.5px;color:#555;left:390.20px;">H</span>
<span id="a13" class="t" style="top:14.49px;font-size:12.5px;color:#2e6b4f;transform:scaleX(0.9794);left:400.70px;">2049.55</span>
<span id="a14" class="t" style="top:14.49px;font-size:12.5px;color:#555;left:451.80px;">L</span>
<span id="a15" class="t" style="top:14.49px;font-size:12.5px;color:#2e6b4f;transform:scaleX(0.9772);left:460.30px;">2039.05</span>
<span id="a16" class="t" style="top:14.49px;font-size:12.5px;color:#555;left:511.70px;">C</span>
<span id="a17" class="t" style="top:14.49px;font-size:12.5px;color:#2e6b4f;transform:scaleX(0.9705);left:520.60px;">2042.28</span>
<span id="a18" class="t" style="top:14.49px;font-size:12.5px;color:#2e6b4f;transform:scaleX(0.9471);left:572.80px;">+3.18</span>
<span id="a19" class="t" style="top:14.49px;font-size:12.5px;color:#2e6b4f;transform:scaleX(0.9292);left:609.20px;">(+0.16%)</span>
<span id="a20" class="t" style="top:42.39px;font-size:12.5px;color:#f23645;letter-spacing:-0.022px;left:20.10px;">2042.33</span>
<span id="a21" class="t" style="top:42.13px;font-size:11px;color:#222;left:81.90px;">8</span>
<span id="a22" class="t" style="top:42.39px;font-size:12.5px;color:#2962ff;transform:scaleX(0.9728);left:104.00px;">2042.41</span>
<span id="a23" class="t" style="top:70.44px;font-size:12px;color:#555;transform:scaleX(0.9502);left:12.80px;">MA</span>
<span id="a24" class="t" style="top:70.44px;font-size:12px;color:#555;transform:scaleX(1.0387);left:33.60px;">Ribbon</span>
<span id="a25" class="t" style="top:70.44px;font-size:12px;color:#555;transform:scaleX(0.8923);left:77.20px;">SMA</span>
<span id="a26" class="t" style="top:70.44px;font-size:12px;color:#555;letter-spacing:-0.085px;left:104.00px;">close</span>
<span id="a27" class="t" style="top:70.44px;font-size:12px;color:#555;letter-spacing:0.026px;left:136.70px;">20</span>
<span id="a28" class="t" style="top:70.44px;font-size:12px;color:#555;transform:scaleX(0.8885);left:154.70px;">SMA</span>
<span id="a29" class="t" style="top:70.44px;font-size:12px;color:#555;letter-spacing:0.015px;left:181.20px;">close</span>
<span id="a30" class="t" style="top:70.44px;font-size:12px;color:#555;transform:scaleX(0.8995);left:215.30px;">50</span>
<span id="a31" class="t" style="top:70.44px;font-size:12px;color:#555;transform:scaleX(0.8885);left:232.30px;">SMA</span>
<span id="a32" class="t" style="top:70.44px;font-size:12px;color:#555;letter-spacing:-0.085px;left:258.80px;">close</span>
<span id="a33" class="t" style="top:70.44px;font-size:12px;color:#555;transform:scaleX(0.9436);left:292.10px;">100</span>
<span id="a34" class="t" style="top:70.44px;font-size:12px;color:#555;transform:scaleX(0.8654);left:316.20px;">SMA</span>
<span id="a35" class="t" style="top:70.44px;font-size:12px;color:#555;letter-spacing:0.015px;left:342.60px;">close</span>
<span id="a36" class="t" style="top:70.44px;font-size:12px;color:#555;transform:scaleX(0.9780);left:375.90px;">200</span>
<span id="a37" class="t" style="top:70.19px;font-size:12.5px;color:#f23645;letter-spacing:-0.105px;left:404.70px;">2029.95</span>
<span id="a38" class="t" style="top:70.19px;font-size:12.5px;color:#2962ff;transform:scaleX(0.9816);left:456.70px;">2033.74</span>
<span id="a39" class="t" style="top:69.93px;font-size:11px;color:#333;left:507.60px;">∅</span>
<span id="a40" class="t" style="top:70.19px;font-size:12.5px;color:#111;transform:scaleX(0.9617);left:523.20px;">1965.35</span>
<span id="a41" class="t" style="top:700.14px;font-size:12px;color:#555;transform:scaleX(0.8574);left:12.90px;">ATR</span>
<span id="a42" class="t" style="top:700.14px;font-size:12px;color:#555;transform:scaleX(0.8118);left:39.70px;">14</span>
<span id="a43" class="t" style="top:700.14px;font-size:12px;color:#555;transform:scaleX(0.8852);left:56.50px;">RMA</span>
<span id="a44" class="t" style="top:699.89px;font-size:12.5px;color:#b22833;letter-spacing:0.043px;left:88.70px;">20.87</span>
<span id="a45" class="t" style="top:728.94px;font-size:12px;color:#555;transform:scaleX(0.9492);left:12.90px;">CCI</span>
<span id="a46" class="t" style="top:728.94px;font-size:12px;color:#555;transform:scaleX(0.8483);left:37.20px;">20</span>
<span id="a47" class="t" style="top:728.94px;font-size:12px;color:#555;transform:scaleX(0.9132);left:54.00px;">hlc3</span>
<span id="a48" class="t" style="top:728.94px;font-size:12px;color:#555;transform:scaleX(0.8577);left:81.80px;">SMA</span>
<span id="a49" class="t" style="top:728.94px;font-size:12px;color:#555;left:109.00px;">5</span>
<span id="a50" class="t" style="top:728.69px;font-size:12.5px;color:#2962ff;letter-spacing:0.093px;left:123.20px;">95.16</span>
<span id="a51" class="t" style="top:14.88px;font-size:11.5px;color:#131722;transform:scaleX(0.8550);left:1474.20px;">USD</span>
<span id="a52" class="t" style="top:665.08px;font-size:12px;color:#555;transform:scaleX(0.9473);left:1474.50px;">1800.00</span>
<span id="a53" class="t" style="top:628.55px;font-size:12px;color:#555;transform:scaleX(0.9473);left:1474.50px;">1820.00</span>
<span id="a54" class="t" style="top:592.02px;font-size:12px;color:#555;transform:scaleX(0.9473);left:1474.50px;">1840.00</span>
<span id="a55" class="t" style="top:556.49px;font-size:12px;color:#555;transform:scaleX(0.9473);left:1474.50px;">1860.00</span>
<span id="a56" class="t" style="top:518.96px;font-size:12px;color:#555;transform:scaleX(0.9473);left:1474.50px;">1880.00</span>
<span id="a57" class="t" style="top:483.43px;font-size:12px;color:#555;transform:scaleX(0.9473);left:1474.50px;">1900.00</span>
<span id="a58" class="t" style="top:445.91px;font-size:12px;color:#555;transform:scaleX(0.9473);left:1474.50px;">1920.00</span>
<span id="a59" class="t" style="top:410.38px;font-size:12px;color:#555;transform:scaleX(0.9473);left:1474.50px;">1940.00</span>
<span id="a60" class="t" style="top:372.85px;font-size:12px;color:#555;transform:scaleX(0.9473);left:1474.50px;">1960.00</span>
<span id="a61" class="t" style="top:337.32px;font-size:12px;color:#555;transform:scaleX(0.9473);left:1474.50px;">1980.00</span>
<span id="a62" class="t" style="top:299.79px;font-size:12px;color:#555;transform:scaleX(0.9473);left:1474.50px;">2000.00</span>
<span id="a63" class="t" style="top:264.26px;font-size:12px;color:#555;transform:scaleX(0.9473);left:1474.50px;">2020.00</span>
<span id="a64" class="t" style="top:226.73px;font-size:12px;color:#555;transform:scaleX(0.9473);left:1474.50px;">2040.00</span>
<span id="a65" class="t" style="top:191.20px;font-size:12px;color:#555;transform:scaleX(0.9473);left:1474.50px;">2060.00</span>
<span id="a66" class="t" style="top:153.67px;font-size:12px;color:#555;transform:scaleX(0.9473);left:1474.50px;">2080.00</span>
<span id="a67" class="t" style="top:118.14px;font-size:12px;color:#555;transform:scaleX(0.9473);left:1474.50px;">2100.00</span>
<span id="a68" class="t" style="top:80.61px;font-size:12px;color:#555;transform:scaleX(0.9473);left:1474.50px;">2120.00</span>
<span id="a69" class="t" style="top:43.84px;font-size:12px;color:#555;transform:scaleX(0.9473);left:1474.50px;">2140.00</span>
<span id="a70" class="t" style="top:699.74px;font-size:12px;color:#555;transform:scaleX(0.9389);left:1474.40px;">20.00</span>
<span id="a71" class="t" style="top:716.64px;font-size:12px;color:#555;transform:scaleX(0.9479);left:1474.40px;">200.00</span>
<span id="a72" class="t" style="top:750.14px;font-size:12px;color:#555;transform:scaleX(0.9543);left:1474.40px;">0.00</span>
<span id="a73" class="t" style="top:781.24px;font-size:12px;color:#555;transform:scaleX(0.9469);left:1474.40px;">−200.00</span>
<span id="a74" class="t" style="top:811.74px;font-size:12px;color:#4a4a4a;left:51.0px;width:60px;margin-left:-30px;text-align:center;transform-origin:50% 50%;transform:scaleX(.92);">19</span>
<span id="a75" class="t" style="top:811.74px;font-size:12px;color:#4a4a4a;left:132.0px;width:60px;margin-left:-30px;text-align:center;transform-origin:50% 50%;transform:scaleX(.92);">Jul</span>
<span id="a76" class="t" style="top:811.74px;font-size:12px;color:#4a4a4a;left:214.0px;width:60px;margin-left:-30px;text-align:center;transform-origin:50% 50%;transform:scaleX(.92);">17</span>
<span id="a77" class="t" style="top:811.74px;font-size:12px;color:#4a4a4a;left:304.0px;width:60px;margin-left:-30px;text-align:center;transform-origin:50% 50%;transform:scaleX(.92);">Aug</span>
<span id="a78" class="t" style="top:811.74px;font-size:12px;color:#4a4a4a;left:385.0px;width:60px;margin-left:-30px;text-align:center;transform-origin:50% 50%;transform:scaleX(.92);">15</span>
<span id="a79" class="t" style="top:811.74px;font-size:12px;color:#4a4a4a;left:491.0px;width:60px;margin-left:-30px;text-align:center;transform-origin:50% 50%;transform:scaleX(.92);">Sep</span>
<span id="a80" class="t" style="top:811.74px;font-size:12px;color:#4a4a4a;left:581.0px;width:60px;margin-left:-30px;text-align:center;transform-origin:50% 50%;transform:scaleX(.92);">18</span>
<span id="a81" class="t" style="top:811.74px;font-size:12px;color:#4a4a4a;left:662.0px;width:60px;margin-left:-30px;text-align:center;transform-origin:50% 50%;transform:scaleX(.92);">Oct</span>
<span id="a82" class="t" style="top:811.74px;font-size:12px;color:#4a4a4a;left:744.0px;width:60px;margin-left:-30px;text-align:center;transform-origin:50% 50%;transform:scaleX(.92);">16</span>
<span id="a83" class="t" style="top:811.74px;font-size:12px;color:#4a4a4a;left:842.0px;width:60px;margin-left:-30px;text-align:center;transform-origin:50% 50%;transform:scaleX(.92);">Nov</span>
<span id="a84" class="t" style="top:811.74px;font-size:12px;color:#4a4a4a;left:924.0px;width:60px;margin-left:-30px;text-align:center;transform-origin:50% 50%;transform:scaleX(.92);">15</span>
<span id="a85" class="t" style="top:811.74px;font-size:12px;color:#4a4a4a;left:1021.0px;width:60px;margin-left:-30px;text-align:center;transform-origin:50% 50%;transform:scaleX(.92);">Dec</span>
<span id="a86" class="t" style="top:811.74px;font-size:12px;color:#4a4a4a;left:1111.0px;width:60px;margin-left:-30px;text-align:center;transform-origin:50% 50%;transform:scaleX(.92);">18</span>
<span id="a87" class="t" style="top:811.74px;font-size:12px;color:#4a4a4a;left:1193.0px;width:60px;margin-left:-30px;text-align:center;transform-origin:50% 50%;transform:scaleX(.92);">2024</span>
<span id="a88" class="t" style="top:811.74px;font-size:12px;color:#4a4a4a;left:1274.0px;width:60px;margin-left:-30px;text-align:center;transform-origin:50% 50%;transform:scaleX(.92);">15</span>
<span id="a89" class="t" style="top:811.74px;font-size:12px;color:#4a4a4a;left:1380.0px;width:60px;margin-left:-30px;text-align:center;transform-origin:50% 50%;transform:scaleX(.92);">Feb</span>
<svg width="1533" height="833" viewBox="0 0 1533 833">
<path d="M1466 149.0H1520a2 2 0 0 1 2 2V164.0a2 2 0 0 1 -2 2H1466Z" fill="#000"/>
<path d="M1466 169.0H1520a2 2 0 0 1 2 2V184.0a2 2 0 0 1 -2 2H1466Z" fill="#000"/>
<path d="M1466 203.5H1520a2 2 0 0 1 2 2V218.0a2 2 0 0 1 -2 2H1466Z" fill="#000"/>
<path d="M1466 239.0H1520a2 2 0 0 1 2 2V254.0a2 2 0 0 1 -2 2H1466Z" fill="#000"/>
<path d="M1466 280.0H1520a2 2 0 0 1 2 2V295.0a2 2 0 0 1 -2 2H1466Z" fill="#000"/>
<path d="M1466 321.0H1520a2 2 0 0 1 2 2V336.0a2 2 0 0 1 -2 2H1466Z" fill="#000"/>
<path d="M1466 371.0H1520a2 2 0 0 1 2 2V386.0a2 2 0 0 1 -2 2H1466Z" fill="#000"/>
<path d="M1466 408.0H1520a2 2 0 0 1 2 2V423.0a2 2 0 0 1 -2 2H1466Z" fill="#000"/>
<path d="M1466 425.0H1520a2 2 0 0 1 2 2V440.0a2 2 0 0 1 -2 2H1466Z" fill="#000"/>
<path d="M1466 493.0H1520a2 2 0 0 1 2 2V508.0a2 2 0 0 1 -2 2H1466Z" fill="#000"/>
<path d="M1466 510.0H1520a2 2 0 0 1 2 2V525.0a2 2 0 0 1 -2 2H1466Z" fill="#000"/>
<path d="M1466 654.0H1520a2 2 0 0 1 2 2V669.0a2 2 0 0 1 -2 2H1466Z" fill="#000"/>
<path d="M1466 220.2H1523.5a2.5 2.5 0 0 1 2.5 2.5V234.5a2.5 2.5 0 0 1 -2.5 2.5H1466Z" fill="#68a886"/>
</svg>
<span id="b0" class="t" style="top:151.74px;font-size:12px;color:#fff;font-weight:700;transform:scaleX(0.9496);left:1474.10px;">2081.00</span>
<span id="b1" class="t" style="top:171.74px;font-size:12px;color:#fff;font-weight:700;transform:scaleX(0.9496);left:1474.10px;">2070.42</span>
<span id="b2" class="t" style="top:205.99px;font-size:12px;color:#fff;font-weight:700;transform:scaleX(0.9496);left:1474.10px;">2043.61</span>
<span id="b3" class="t" style="top:241.74px;font-size:12px;color:#fff;font-weight:700;transform:scaleX(0.9496);left:1474.10px;">2032.13</span>
<span id="b4" class="t" style="top:282.74px;font-size:12px;color:#fff;font-weight:700;transform:scaleX(0.9496);left:1474.10px;">2009.75</span>
<span id="b5" class="t" style="top:323.74px;font-size:12px;color:#fff;font-weight:700;transform:scaleX(0.9496);left:1474.10px;">1987.23</span>
<span id="b6" class="t" style="top:373.74px;font-size:12px;color:#fff;font-weight:700;transform:scaleX(0.9496);left:1474.10px;">1959.74</span>
<span id="b7" class="t" style="top:410.74px;font-size:12px;color:#fff;font-weight:700;transform:scaleX(0.9496);left:1474.10px;">1939.56</span>
<span id="b8" class="t" style="top:427.74px;font-size:12px;color:#fff;font-weight:700;transform:scaleX(0.9496);left:1474.10px;">1932.49</span>
<span id="b9" class="t" style="top:495.74px;font-size:12px;color:#fff;font-weight:700;transform:scaleX(0.9496);left:1474.10px;">1893.12</span>
<span id="b10" class="t" style="top:512.74px;font-size:12px;color:#fff;font-weight:700;transform:scaleX(0.9496);left:1474.10px;">1885.03</span>
<span id="b11" class="t" style="top:656.74px;font-size:12px;color:#fff;font-weight:700;transform:scaleX(0.9496);left:1474.10px;">1804.78</span>
<span id="b12" class="t" style="top:222.74px;font-size:12px;color:#d6eadf;font-weight:700;transform:scaleX(0.9450);left:1474.80px;">13:18:20</span>
<div id="wm1">海马财经</div>
<div id="wm2">zzrt01.cn</div>
</body></html>
